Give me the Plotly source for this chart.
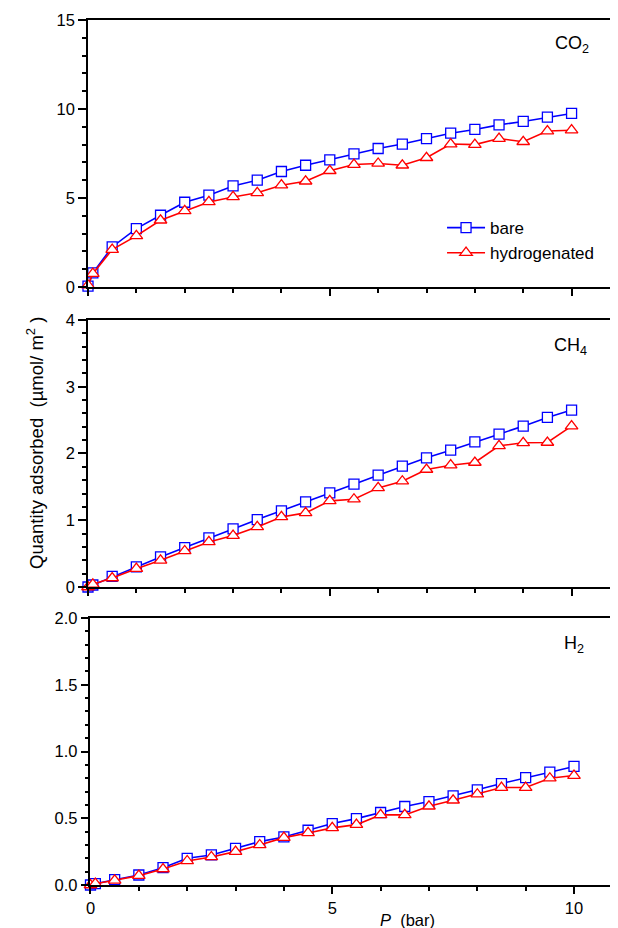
import plotly.graph_objects as go

pressure = [0, 0.1, 0.5, 1, 1.5, 2, 2.5, 3, 3.5, 4, 4.5, 5, 5.5, 6, 6.5, 7, 7.5, 8, 8.5, 9, 9.5, 10]

co2_bare = [0.05, 0.79, 2.25, 3.28, 4.03, 4.76, 5.16, 5.68, 6.0, 6.49, 6.84, 7.14, 7.48, 7.78, 8.03, 8.34, 8.64, 8.85, 9.11, 9.3, 9.54, 9.75]
co2_hyd = [0.1, 0.75, 2.1, 2.87, 3.75, 4.28, 4.78, 5.06, 5.29, 5.72, 5.94, 6.53, 6.88, 6.94, 6.84, 7.26, 8.03, 8.0, 8.34, 8.16, 8.76, 8.81]

ch4_bare = [0.0, 0.03, 0.16, 0.30, 0.45, 0.59, 0.735, 0.87, 1.01, 1.14, 1.275, 1.41, 1.54, 1.675, 1.81, 1.935, 2.05, 2.175, 2.29, 2.41, 2.54, 2.65]
ch4_hyd = [0.0, 0.04, 0.135, 0.275, 0.40, 0.54, 0.675, 0.77, 0.90, 1.05, 1.11, 1.29, 1.315, 1.485, 1.585, 1.76, 1.825, 1.865, 2.115, 2.16, 2.165, 2.41]

h2_bare = [0.0, 0.01, 0.04, 0.075, 0.13, 0.20, 0.225, 0.275, 0.325, 0.36, 0.41, 0.46, 0.497, 0.543, 0.588, 0.625, 0.668, 0.713, 0.76, 0.805, 0.845, 0.888]
h2_hyd = [0.0, 0.01, 0.035, 0.07, 0.12, 0.18, 0.21, 0.25, 0.30, 0.355, 0.39, 0.428, 0.452, 0.525, 0.525, 0.59, 0.635, 0.68, 0.73, 0.73, 0.80, 0.82]

series_names = ["bare", "hydrogenated"]
gas_labels = ["CO<sub>2</sub>", "CH<sub>4</sub>", "H<sub>2</sub>"]
x_ticks = [0, 5, 10]
y_ticks_co2 = [0, 5, 10, 15]
y_ticks_ch4 = [0, 1, 2, 3, 4]
y_ticks_h2 = [0.0, 0.5, 1.0, 1.5, 2.0]

FONT = "Liberation Sans, Arial, sans-serif"
BLUE = "#0000FF"
RED = "#FF0000"
TICK_SIZE = 16.5

fig = go.Figure()

panels = [
    (co2_bare, co2_hyd, "x", "y"),
    (ch4_bare, ch4_hyd, "x2", "y2"),
    (h2_bare, h2_hyd, "x3", "y3"),
]
for i, (b, h, xa, ya) in enumerate(panels):
    fig.add_trace(go.Scatter(
        x=pressure, y=b, xaxis=xa, yaxis=ya, name=series_names[0],
        mode="lines+markers", showlegend=(i == 0), cliponaxis=False,
        line=dict(color=BLUE, width=1.6),
        marker=dict(symbol="square", size=10, color="white",
                    line=dict(color=BLUE, width=1.3)),
    ))
    fig.add_trace(go.Scatter(
        x=pressure, y=h, xaxis=xa, yaxis=ya, name=series_names[1],
        mode="lines+markers", showlegend=(i == 0), cliponaxis=False,
        line=dict(color=RED, width=1.6),
        marker=dict(symbol="triangle-up", size=11, color="white",
                    line=dict(color=RED, width=1.3)),
    ))

common_x = dict(
    showline=True, linecolor="black", linewidth=1.6, mirror=True,
    ticks="outside", ticklen=7, tickwidth=1.5, tickcolor="black",
    tickvals=x_ticks, showgrid=False, zeroline=False,
    minor=dict(dtick=1, ticks="outside", ticklen=4, tickwidth=1.5, tickcolor="black"),
    tickfont=dict(family=FONT, size=TICK_SIZE, color="black"),
)
common_y = dict(
    showline=True, linecolor="black", linewidth=1.6, mirror=False,
    ticks="outside", ticklen=8, tickwidth=1.5, tickcolor="black",
    showgrid=False, zeroline=False,
    tickfont=dict(family=FONT, size=TICK_SIZE, color="black"),
)

fig.update_layout(
    width=610, height=920,
    margin=dict(l=80, r=0, t=12, b=43),
    paper_bgcolor="white", plot_bgcolor="white",
    font=dict(family=FONT, size=16, color="black"),
    xaxis=dict(domain=[0, 1], range=[0, 10.96], anchor="y", showticklabels=False, **common_x),
    xaxis2=dict(domain=[0, 1], range=[0, 10.96], anchor="y2", showticklabels=False, **common_x),
    xaxis3=dict(domain=[0.0047, 1], range=[0, 10.91], anchor="y3", showticklabels=True, **common_x),
    yaxis=dict(domain=[0.69133, 1], range=[0, 15], anchor="x", tickvals=y_ticks_co2,
               minor=dict(dtick=1, ticks="outside", ticklen=4, tickwidth=1.5, tickcolor="black"),
               **common_y),
    yaxis2=dict(domain=[0.34451, 0.65318], range=[0, 4], anchor="x2", tickvals=y_ticks_ch4,
                minor=dict(dtick=0.2, ticks="outside", ticklen=4, tickwidth=1.5, tickcolor="black"),
                **common_y),
    yaxis3=dict(domain=[0, 0.30867], range=[0, 2], anchor="x3", tickvals=y_ticks_h2,
                tickformat=".1f",
                minor=dict(dtick=0.1, ticks="outside", ticklen=4, tickwidth=1.5, tickcolor="black"),
                **common_y),
    legend=dict(x=0.668, y=0.7803, xanchor="left", yanchor="top",
                itemwidth=38,
                bgcolor="rgba(0,0,0,0)", borderwidth=0,
                font=dict(family=FONT, size=17, color="black")),
)

# gas labels
fig.add_annotation(x=9.61, y=13.6, xref="x", yref="y", text=gas_labels[0], showarrow=False,
                   xanchor="left", yanchor="middle", font=dict(family=FONT, size=18, color="black"))
fig.add_annotation(x=9.59, y=3.61, xref="x2", yref="y2", text=gas_labels[1], showarrow=False,
                   xanchor="left", yanchor="middle", font=dict(family=FONT, size=18, color="black"))
fig.add_annotation(x=9.75, y=1.80, xref="x3", yref="y3", text=gas_labels[2], showarrow=False,
                   xanchor="left", yanchor="middle", font=dict(family=FONT, size=18, color="black"))

# axis titles
fig.add_annotation(x=0.602, y=-0.0405, xref="paper", yref="paper", text="<i>P</i>  (bar)",
                   showarrow=False, xanchor="center", yanchor="middle",
                   font=dict(family=FONT, size=16.5, color="black"))
fig.add_annotation(x=-0.1, y=0.511, xref="paper", yref="paper",
                   text="Quantity adsorbed  (µmol/ m<sup>2</sup> )",
                   textangle=-90, showarrow=False, xanchor="center", yanchor="middle",
                   font=dict(family=FONT, size=18.5, color="black"))

fig.write_html("out.html")
